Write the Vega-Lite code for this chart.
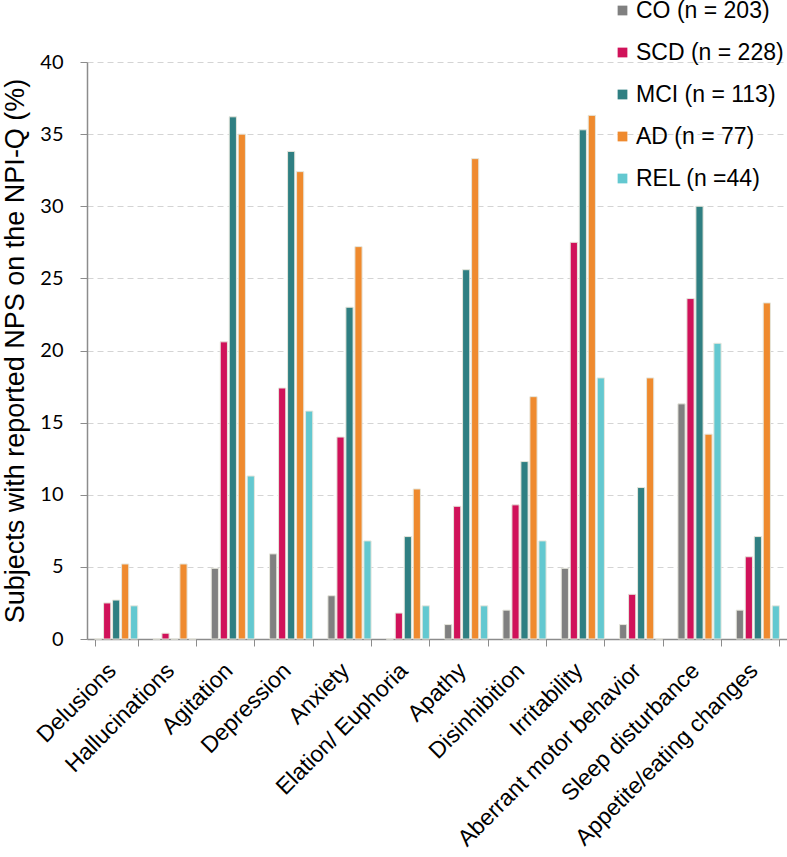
{
  "$schema": "https://vega.github.io/schema/vega-lite/v6.json",
  "autosize": "none",
  "width": 700,
  "height": 577,
  "padding": {"left": 87, "top": 62, "right": 0, "bottom": 218},
  "background": "white",
  "data": {
    "values": [
      {"symptom": "Delusions", "group": "CO (n = 203)", "value": 0},
      {"symptom": "Delusions", "group": "SCD (n = 228)", "value": 2.5},
      {"symptom": "Delusions", "group": "MCI (n = 113)", "value": 2.7},
      {"symptom": "Delusions", "group": "AD (n = 77)", "value": 5.2},
      {"symptom": "Delusions", "group": "REL (n =44)", "value": 2.3},
      {"symptom": "Hallucinations", "group": "CO (n = 203)", "value": 0},
      {"symptom": "Hallucinations", "group": "SCD (n = 228)", "value": 0.4},
      {"symptom": "Hallucinations", "group": "MCI (n = 113)", "value": 0},
      {"symptom": "Hallucinations", "group": "AD (n = 77)", "value": 5.2},
      {"symptom": "Hallucinations", "group": "REL (n =44)", "value": 0},
      {"symptom": "Agitation", "group": "CO (n = 203)", "value": 4.9},
      {"symptom": "Agitation", "group": "SCD (n = 228)", "value": 20.6},
      {"symptom": "Agitation", "group": "MCI (n = 113)", "value": 36.2},
      {"symptom": "Agitation", "group": "AD (n = 77)", "value": 35.0},
      {"symptom": "Agitation", "group": "REL (n =44)", "value": 11.3},
      {"symptom": "Depression", "group": "CO (n = 203)", "value": 5.9},
      {"symptom": "Depression", "group": "SCD (n = 228)", "value": 17.4},
      {"symptom": "Depression", "group": "MCI (n = 113)", "value": 33.8},
      {"symptom": "Depression", "group": "AD (n = 77)", "value": 32.4},
      {"symptom": "Depression", "group": "REL (n =44)", "value": 15.8},
      {"symptom": "Anxiety", "group": "CO (n = 203)", "value": 3.0},
      {"symptom": "Anxiety", "group": "SCD (n = 228)", "value": 14.0},
      {"symptom": "Anxiety", "group": "MCI (n = 113)", "value": 23.0},
      {"symptom": "Anxiety", "group": "AD (n = 77)", "value": 27.2},
      {"symptom": "Anxiety", "group": "REL (n =44)", "value": 6.8},
      {"symptom": "Elation/ Euphoria", "group": "CO (n = 203)", "value": 0},
      {"symptom": "Elation/ Euphoria", "group": "SCD (n = 228)", "value": 1.8},
      {"symptom": "Elation/ Euphoria", "group": "MCI (n = 113)", "value": 7.1},
      {"symptom": "Elation/ Euphoria", "group": "AD (n = 77)", "value": 10.4},
      {"symptom": "Elation/ Euphoria", "group": "REL (n =44)", "value": 2.3},
      {"symptom": "Apathy", "group": "CO (n = 203)", "value": 1.0},
      {"symptom": "Apathy", "group": "SCD (n = 228)", "value": 9.2},
      {"symptom": "Apathy", "group": "MCI (n = 113)", "value": 25.6},
      {"symptom": "Apathy", "group": "AD (n = 77)", "value": 33.3},
      {"symptom": "Apathy", "group": "REL (n =44)", "value": 2.3},
      {"symptom": "Disinhibition", "group": "CO (n = 203)", "value": 2.0},
      {"symptom": "Disinhibition", "group": "SCD (n = 228)", "value": 9.3},
      {"symptom": "Disinhibition", "group": "MCI (n = 113)", "value": 12.3},
      {"symptom": "Disinhibition", "group": "AD (n = 77)", "value": 16.8},
      {"symptom": "Disinhibition", "group": "REL (n =44)", "value": 6.8},
      {"symptom": "Irritability", "group": "CO (n = 203)", "value": 4.9},
      {"symptom": "Irritability", "group": "SCD (n = 228)", "value": 27.5},
      {"symptom": "Irritability", "group": "MCI (n = 113)", "value": 35.3},
      {"symptom": "Irritability", "group": "AD (n = 77)", "value": 36.3},
      {"symptom": "Irritability", "group": "REL (n =44)", "value": 18.1},
      {"symptom": "Aberrant motor behavior", "group": "CO (n = 203)", "value": 1.0},
      {"symptom": "Aberrant motor behavior", "group": "SCD (n = 228)", "value": 3.1},
      {"symptom": "Aberrant motor behavior", "group": "MCI (n = 113)", "value": 10.5},
      {"symptom": "Aberrant motor behavior", "group": "AD (n = 77)", "value": 18.1},
      {"symptom": "Aberrant motor behavior", "group": "REL (n =44)", "value": 0},
      {"symptom": "Sleep disturbance", "group": "CO (n = 203)", "value": 16.3},
      {"symptom": "Sleep disturbance", "group": "SCD (n = 228)", "value": 23.6},
      {"symptom": "Sleep disturbance", "group": "MCI (n = 113)", "value": 30.0},
      {"symptom": "Sleep disturbance", "group": "AD (n = 77)", "value": 14.2},
      {"symptom": "Sleep disturbance", "group": "REL (n =44)", "value": 20.5},
      {"symptom": "Appetite/eating changes", "group": "CO (n = 203)", "value": 2.0},
      {"symptom": "Appetite/eating changes", "group": "SCD (n = 228)", "value": 5.7},
      {"symptom": "Appetite/eating changes", "group": "MCI (n = 113)", "value": 7.1},
      {"symptom": "Appetite/eating changes", "group": "AD (n = 77)", "value": 23.3},
      {"symptom": "Appetite/eating changes", "group": "REL (n =44)", "value": 2.3}
    ]
  },
  "mark": {"type": "bar", "stroke": "#e6e6dc", "strokeWidth": 1},
  "encoding": {
    "x": {
      "field": "symptom",
      "type": "nominal",
      "sort": null,
      "scale": {"paddingInner": 0.26, "paddingOuter": 0.13},
      "axis": {
        "title": null,
        "labelAngle": -45,
        "labelFont": "Liberation Sans",
        "labelFontSize": 23,
        "labelColor": "#000000",
        "labelPadding": 13,
        "labelOffset": -12,
        "tickBand": "extent",
        "tickSize": 7,
        "tickColor": "#8c8c8c",
        "domainColor": "#8c8c8c",
        "domainWidth": 1.5,
        "labelLimit": 400
      }
    },
    "xOffset": {
      "field": "group",
      "type": "nominal",
      "sort": ["CO (n = 203)", "SCD (n = 228)", "MCI (n = 113)", "AD (n = 77)", "REL (n =44)"],
      "scale": {"paddingInner": 0.2}
    },
    "y": {
      "field": "value",
      "type": "quantitative",
      "scale": {"domain": [0, 40], "nice": false},
      "axis": {
        "title": "Subjects with reported NPS on the NPI-Q (%)",
        "titleFont": "Liberation Sans",
        "titleFontSize": 27,
        "titleFontWeight": "normal",
        "titleColor": "#000000",
        "titlePadding": 10,
        "values": [0, 5, 10, 15, 20, 25, 30, 35, 40],
        "labelFont": "Lato",
        "labelFontSize": 20,
        "labelColor": "#000000",
        "labelPadding": 17,
        "tickSize": 7,
        "tickColor": "#8c8c8c",
        "domainColor": "#8c8c8c",
        "domainWidth": 1.5,
        "grid": true,
        "gridColor": "#d4d4d4",
        "gridDash": [6, 4],
        "gridWidth": 1
      }
    },
    "color": {
      "field": "group",
      "type": "nominal",
      "sort": ["CO (n = 203)", "SCD (n = 228)", "MCI (n = 113)", "AD (n = 77)", "REL (n =44)"],
      "scale": {
        "domain": ["CO (n = 203)", "SCD (n = 228)", "MCI (n = 113)", "AD (n = 77)", "REL (n =44)"],
        "range": ["#808080", "#d0125a", "#2f7f82", "#ef8a2e", "#63c8d0"]
      },
      "legend": {
        "title": null,
        "orient": "none",
        "legendX": 524,
        "legendY": -63,
        "symbolType": "square",
        "symbolSize": 95,
        "symbolStrokeWidth": 0,
        "labelFont": "Liberation Sans",
        "labelFontSize": 23,
        "labelColor": "#000000",
        "labelOffset": 2,
        "rowPadding": 18,
        "labelLimit": 300
      }
    }
  },
  "config": {
    "view": {"stroke": null}
  }
}
